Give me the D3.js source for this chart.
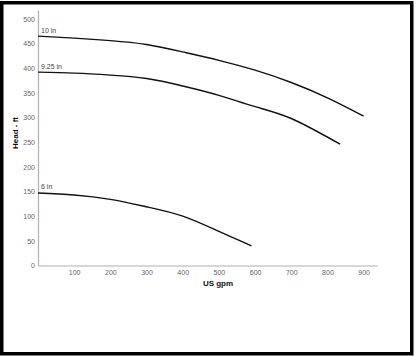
<!DOCTYPE html>
<html><head><meta charset="utf-8">
<script src="https://cdn.jsdelivr.net/npm/d3@7"></script>
<style>html,body{margin:0;padding:0;background:#fff;}svg{display:block;}</style>
</head><body>
<script>
const xTicks = [100,200,300,400,500,600,700,800,900];
const yTicks = [0,50,100,150,200,250,300,350,400,450,500];
const seriesNames = ["10 in","9.25 in","6 in"];
const curve10 = [[0,465],[100,461],[200,456],[300,448],[400,433],[500,416],[600,396],[700,371],[800,340],[900,303]];
const curve925 = [[0,392],[100,390],[200,386],[300,379],[400,364],[500,345],[600,322],[700,298],[835,246]];
const curve6 = [[0,147],[100,143],[200,134],[300,119],[400,100],[500,69],[590,40]];
const curves = [curve10, curve925, curve6];

const W = 416, H = 356;
const svg = d3.select("body").append("svg").attr("width", W).attr("height", H);
svg.append("rect").attr("x",1.75).attr("y",2.75).attr("width",410).attr("height",351).attr("fill","#fff").attr("stroke","#000").attr("stroke-width",3.5);

const x = d3.scaleLinear().domain([0, 937]).range([38, 377]);
const y = d3.scaleLinear().domain([0, 518]).range([265.5, 10]);
const font = "Liberation Sans, Arial, sans-serif";

const gx = svg.append("g").attr("transform", `translate(0,${y(0)})`)
  .call(d3.axisBottom(x).tickValues(xTicks).tickSize(0).tickPadding(5));
const gy = svg.append("g").attr("transform", `translate(${x(0)},0)`)
  .call(d3.axisLeft(y).tickValues(yTicks).tickSize(0).tickPadding(3));
[gx, gy].forEach(g => {
  g.select(".domain").attr("stroke", "#b0b0b0").attr("stroke-width", 1.2);
  g.selectAll("text").attr("font-family", font).attr("font-size", 7).attr("fill", "#666");
});

svg.append("text").attr("x", 218).attr("y", 286).attr("text-anchor","middle")
  .attr("font-family", font).attr("font-size", 8).attr("font-weight","bold").attr("fill","#111").text("US gpm");
svg.append("text").attr("transform","translate(18,133) rotate(-90)").attr("text-anchor","middle")
  .attr("font-family", font).attr("font-size", 8).attr("font-weight","bold").attr("fill","#111").text("Head - ft");

const line = d3.line().x(d => x(d[0])).y(d => y(d[1])).curve(d3.curveNatural);
curves.forEach((c, i) => {
  svg.append("path").datum(c).attr("d", line).attr("fill","none").attr("stroke","#111").attr("stroke-width",1.4);
  svg.append("text").attr("x", x(c[0][0]) + 3).attr("y", y(c[0][1]) - 3.5)
    .attr("font-family", font).attr("font-size", 7).attr("fill","#444").text(seriesNames[i]);
});
</script>
</body></html>
